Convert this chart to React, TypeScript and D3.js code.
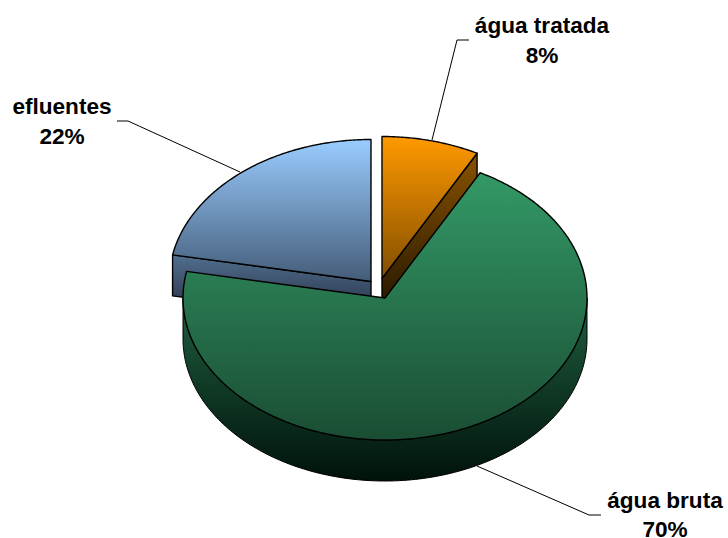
import React from "react";
import * as d3 from "d3";

const categories = ["água tratada", "água bruta", "efluentes"];
const values = [7.8, 70.2, 22];
const percentLabels = ["8%", "70%", "22%"];

const W = 728, H = 538;
const RX = 202, RY = 142, DEPTH = 41;
const centers = [[382, 278.5], [385, 298], [371, 281.5]];
const topStops = [
  ["#FF9900", "#804D00"],
  ["#339966", "#1A4D33"],
  ["#99CCFF", "#3F5570"],
];
const topRange = [[137, 281], [172, 441], [140, 290]];
const sideStops = [
  ["#8A5300", "#2B1A00"],
  ["#1F5E3F", "#00120A"],
  ["#51708F", "#323F57"],
];
const sideRange = [[152, 300], [300, 482], [254, 300]];
const leaders = [
  [[432, 140], [457, 40], [469, 40]],
  [[477, 466], [589, 515], [601, 515]],
  [[240, 172], [128, 121], [117, 121]],
];
const labelPos = [[542, 33, 63], [665, 508, 537], [62, 114, 144]];

const pie = d3.pie<number>().sort(null).startAngle(0).endAngle(2 * Math.PI);
const arcs = pie(values);
const pt = (c: number[], a: number, dy = 0): [number, number] => [
  c[0] + Math.sin(a) * RX,
  c[1] - Math.cos(a) * RY + dy,
];
const line = d3.line();
const slicePath = (i: number) => {
  const a = arcs[i];
  const c = centers[i];
  const angs = d3.range(a.startAngle, a.endAngle, 0.01).concat(a.endAngle);
  return line([[c[0], c[1]], ...angs.map((t) => pt(c, t))]) + "Z";
};
const cutFace = (i: number, a: number) => {
  const c = centers[i];
  return line([pt(c, a), [c[0], c[1]], [c[0], c[1] + DEPTH], pt(c, a, DEPTH)]) + "Z";
};

export default function App() {
  const frontAngles = d3.range(Math.PI / 2, (3 * Math.PI) / 2 + 0.001, 0.02);
  const c1 = centers[1];
  const frontPath =
    line([
      ...frontAngles.map((a) => pt(c1, a)),
      ...[...frontAngles].reverse().map((a) => pt(c1, a, DEPTH)),
    ]) + "Z";
  return (
    <svg
      width={W}
      height={H}
      style={{ position: "absolute", left: 0, top: 0, background: "#fff" }}
      fontFamily="Liberation Sans, Arial, sans-serif"
    >
      <defs>
        {arcs.map((_, i) => (
          <React.Fragment key={i}>
            <linearGradient id={`top${i}`} gradientUnits="userSpaceOnUse" x1={0} x2={0} y1={topRange[i][0]} y2={topRange[i][1]}>
              <stop offset={0} stopColor={topStops[i][0]} />
              <stop offset={1} stopColor={topStops[i][1]} />
            </linearGradient>
            <linearGradient id={`side${i}`} gradientUnits="userSpaceOnUse" x1={0} x2={0} y1={sideRange[i][0]} y2={sideRange[i][1]}>
              <stop offset={0} stopColor={sideStops[i][0]} />
              <stop offset={1} stopColor={sideStops[i][1]} />
            </linearGradient>
          </React.Fragment>
        ))}
      </defs>

      {leaders.map((l, i) => (
        <path key={i} d={line(l as [number, number][])!} fill="none" stroke="#000" strokeWidth={1} />
      ))}

      {[2, 0].map((i) => (
        <g key={i} stroke="#000" strokeWidth={1.4} strokeLinejoin="round">
          <path d={cutFace(i, i === 2 ? arcs[2].startAngle : arcs[0].endAngle)} fill={`url(#side${i})`} />
          <path d={slicePath(i)} fill={`url(#top${i})`} />
        </g>
      ))}

      <path d={frontPath} fill="url(#side1)" stroke="#000" strokeWidth={1} />
      <path d={slicePath(1)} fill="url(#top1)" stroke="#000" strokeWidth={1.4} strokeLinejoin="round" />

      {categories.map((name, i) => (
        <text key={name} textAnchor="middle" fontWeight="bold" fontSize={22.6} fill="#000">
          <tspan x={labelPos[i][0]} y={labelPos[i][1]}>{name}</tspan>
          <tspan x={labelPos[i][0]} y={labelPos[i][2]}>{percentLabels[i]}</tspan>
        </text>
      ))}
    </svg>
  );
}
